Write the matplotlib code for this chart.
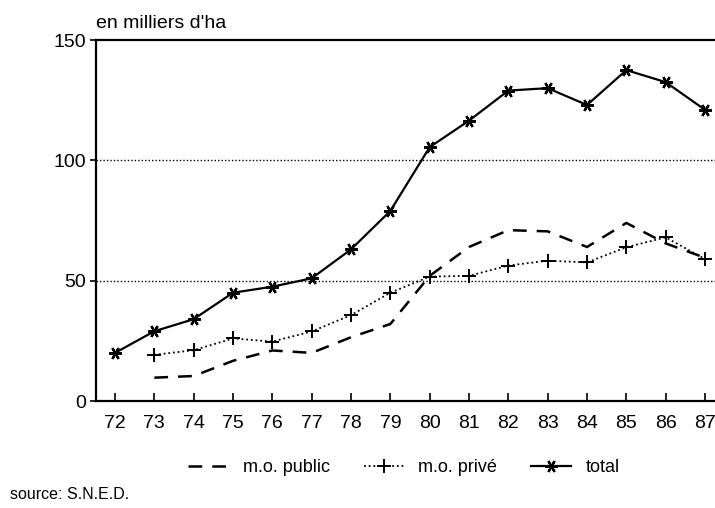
import numpy as np
import matplotlib
matplotlib.use("Agg")
import matplotlib.pyplot as plt

plt.rcParams['font.family'] = ['Liberation Sans', 'DejaVu Sans']

# years 1972-1987 (two-digit labels)
years = [72, 73, 74, 75, 76, 77, 78, 79, 80, 81, 82, 83, 84, 85, 86, 87]
year_labels = [str(y) for y in years]

# en milliers d'ha
total = [20, 29, 34, 45, 47.5, 51, 63, 79, 105.5, 116.5, 129, 130, 123, 137.5, 132.5, 121]
# public and private series start in 1973
years_mo = years[1:]
mo_public = [9.7, 10.4, 16.7, 21, 20, 26.5, 32, 52, 64, 71, 70.5, 64, 74, 65.5, 59.5]
mo_prive = [19.2, 21.1, 26, 24.7, 28.9, 35.7, 45, 51.7, 52, 56.3, 58.3, 57.6, 63.9, 68, 59]

fig = plt.figure(figsize=(7.15, 5.08), dpi=100)
ax = fig.add_axes([0.1343, 0.2106, 0.8657, 0.7106])

ax.plot(years_mo, mo_public, color='black', lw=1.8, ls=(0, (5.5, 4)),
        label='m.o. public')
ax.plot(years_mo, mo_prive, color='black', lw=1.3, ls=(0, (1, 1.6)),
        marker='+', ms=10, mew=1.4, label='m.o. privé')
ax.plot(years, total, color='black', lw=1.6, marker=(6, 2, 90), ms=9,
        mew=1.6, label='total')

for v in [50, 100]:
    ax.axhline(v, color='black', lw=1.0, ls=(0, (1, 1.5)), zorder=0)

ax.set_xlim(71.517, 87.254)
ax.set_ylim(0, 150)
ax.set_xticks(years)
ax.set_xticklabels(year_labels)
ax.set_yticks([0, 50, 100, 150])

ax.spines['right'].set_visible(False)
for s in ['left', 'bottom', 'top']:
    ax.spines[s].set_linewidth(1.6)

ax.tick_params(axis='x', direction='in', length=6, width=1.2, labelsize=14, pad=10)
ax.tick_params(axis='y', direction='out', length=4, width=1.2, labelsize=14, pad=3)

fig.text(0.1343, 0.953, "en milliers d'ha", fontsize=14, ha='left', va='center')
fig.text(0.014, 0.026, "source: S.N.E.D.", fontsize=11.5, ha='left', va='center')

fig.legend(loc='center', bbox_to_anchor=(0.565, 0.079), ncol=3, frameon=False,
           fontsize=13, handlelength=2.2, handletextpad=0.8, columnspacing=1.9)

plt.savefig('out.png', dpi=100)
